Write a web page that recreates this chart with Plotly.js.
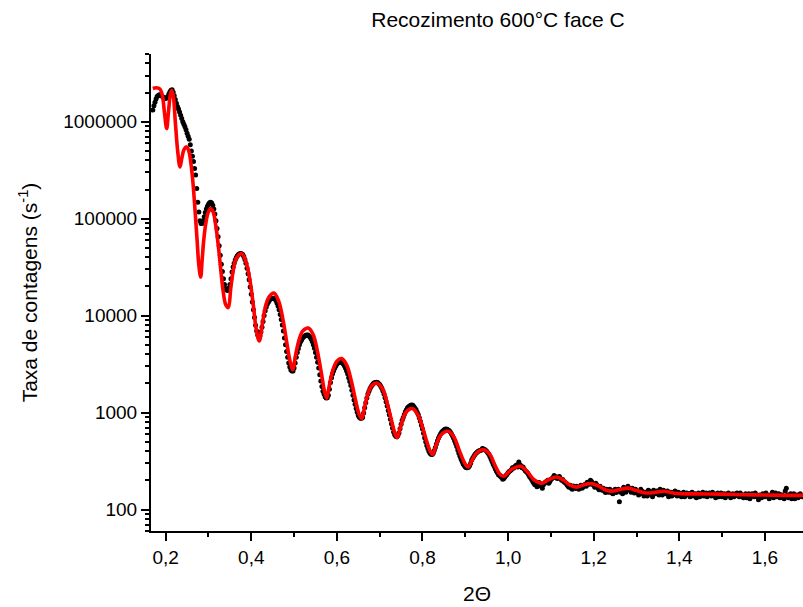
<!DOCTYPE html>
<html><head><meta charset="utf-8">
<script src="https://cdn.plot.ly/plotly-3.0.1.min.js"></script>
<style>html,body{margin:0;padding:0;background:#fff;} #chart{width:803px;height:607px;}</style>
</head><body><div id="chart"></div>
<script>
// Measured scan on a uniform 2θ grid
const scanStart = 0.170;
const scanStep = 0.0025;
const measuredCounts = [
1320000,1460000,1590000,1720000,1820000,1870000,1900000,1890000,1860000,1820000,1780000,1760000,1740000,1770000,1820000,1930000,2040000,2110000,2140000,2020000,
1860000,1700000,1550000,1440000,1350000,1260000,1170000,1080000,1000000,945000,890000,825000,760000,710000,660000,580000,500000,440000,389000,330000,
282000,205000,148000,117000,95500,89000,89100,95000,105000,116000,126000,134000,141000,146000,148000,145000,138000,126000,112000,95000,
79400,65000,52500,42000,33900,28500,24000,21000,19100,18400,18200,19200,20900,24000,28200,31700,34700,37500,39800,41500,
42700,43400,43700,43500,42700,40800,38000,34700,30900,27000,23400,19700,16600,13800,11500,9550,7940,6920,6310,6030,
6170,6760,7590,8710,10000,11200,12300,13200,13800,14400,14800,15000,15100,15100,14800,14300,13500,12600,11500,10300,
9120,8000,6920,5890,5010,4270,3720,3240,2950,2750,2690,2690,2880,3240,3720,4170,4570,5010,5370,5620,
5890,6060,6170,6270,6310,6310,6170,6000,5750,5420,5010,4600,4170,3720,3310,2880,2450,2120,1860,1660,
1550,1460,1410,1420,1510,1740,2040,2290,2510,2700,2880,3020,3160,3240,3310,3340,3310,3260,3160,3040,
2880,2700,2510,2290,2090,1900,1700,1510,1350,1220,1100,1010,933,895,871,871,891,990,1120,1260,
1410,1550,1660,1770,1860,1930,2000,2030,2040,2050,2040,2000,1950,1870,1780,1670,1550,1420,1290,1170,
1050,950,851,766,692,631,589,568,562,580,617,680,759,832,891,955,1020,1070,1120,1150,
1170,1190,1200,1190,1150,1110,1070,1010,955,885,813,741,676,610,550,500,457,425,398,380,
372,370,380,405,437,475,513,545,575,603,631,646,661,672,676,672,661,650,631,603,
575,545,513,480,447,412,380,355,331,312,295,284,275,270,269,272,282,300,324,340,
355,370,380,390,398,403,407,412,427,420,417,408,398,386,372,352,331,312,295,280,
263,250,240,228,224,219,214,205,209,216,224,229,240,246,251,257,269,266,275,282,
288,275,309,290,282,270,275,262,251,245,240,229,219,212,204,195,186,180,191,172,
178,190,182,174,166,180,186,192,195,200,186,195,204,209,214,224,219,212,209,216,
219,209,200,204,195,190,186,180,174,170,178,166,162,175,170,165,174,170,162,168,
178,166,170,178,182,174,191,186,182,200,195,182,178,170,186,178,166,160,174,166,
158,166,155,150,162,158,151,162,158,148,145,155,162,150,155,162,120,151,158,145,
170,158,151,162,174,166,158,151,166,158,148,162,155,148,141,151,162,155,145,138,
151,145,138,158,155,148,141,135,158,151,145,155,151,141,162,148,141,158,155,145,
148,155,135,145,151,138,141,151,155,145,138,151,148,141,135,145,151,135,141,148,
145,141,135,148,151,138,141,145,132,141,148,135,138,145,151,138,141,148,135,141,
148,141,138,151,145,138,132,145,148,135,141,148,135,141,145,132,138,145,148,138,
132,141,145,135,138,145,148,141,135,148,141,135,132,141,145,132,138,145,129,138,
145,138,135,148,141,135,126,141,138,132,145,141,135,148,141,135,129,141,138,151,
132,141,148,135,138,145,132,141,141,132,129,155,166,141,132,138,145,129,135,145,
129,138,141,132,135,145,138,135
];

// Fitted curve
const fitAngle = [
0.170,0.178,0.186,0.192,0.197,0.2023,0.2065,0.2105,0.214,0.218,0.2225,0.228,0.2334,0.238,0.243,0.249,
0.254,0.259,0.264,0.269,0.2735,0.2775,0.2818,0.285,0.2885,0.293,0.299,0.305,0.311,0.317,0.323,0.329,
0.335,0.3405,0.3463,0.352,0.358,0.365,0.3776,0.388,0.397,0.405,0.4115,0.4187,0.426,0.433,0.441,0.453,
0.464,0.474,0.483,0.490,0.4967,0.503,0.511,0.520,0.5332,0.545,0.555,0.564,0.571,0.5762,0.582,0.590,
0.600,0.6112,0.623,0.634,0.644,0.652,0.658,0.665,0.673,0.682,0.6944,0.707,0.718,0.728,0.736,0.7411,
0.748,0.756,0.765,0.7762,0.789,0.800,0.810,0.818,0.8238,0.830,0.839,0.848,0.8603,0.873,0.885,0.895,
0.902,0.907,0.914,0.922,0.931,0.9437,0.957,0.969,0.980,0.9904,1.000,1.010,1.0294,1.045,1.060,1.0785,
1.095,1.1136,1.130,1.145,1.160,1.177,1.195,1.212,1.229,1.2458,1.263,1.281,1.298,1.315,1.3316,1.3627,
1.395,1.430,1.500,1.550,1.600,1.650,1.689
];
const fitCounts = [
2200000,2240000,2190000,1900000,1260000,851000,1260000,1860000,2110000,1820000,1000000,501000,342000,427000,519000,550000,
501000,372000,229000,115000,58900,33100,25000,36300,57500,85100,115000,127000,117000,85100,52500,28800,
17000,12900,12100,19100,29500,38900,43700,35500,22900,12600,7240,5470,8320,12300,15500,17100,
14100,9120,5250,3470,2770,3800,5500,6920,7450,6310,4170,2510,1660,1410,1860,2690,
3390,3600,3090,2090,1320,955,865,1150,1580,1910,2010,1740,1230,813,603,551,
692,912,1050,1100,955,708,501,398,371,437,550,617,640,562,417,324,
285,274,309,363,398,414,372,288,234,220,240,263,279,245,204,187,
204,216,200,178,170,180,185,174,158,155,162,166,158,150,148,154,
146,145,144,142,141,140,140
];

const xTickVals = [0.2,0.4,0.6,0.8,1.0,1.2,1.4,1.6];
const xTickText = ['0,2','0,4','0,6','0,8','1,0','1,2','1,4','1,6'];
const xMinorVals = [0.3,0.5,0.7,0.9,1.1,1.3,1.5];
const yTickVals = [100,1000,10000,100000,1000000];
const yTickText = ['100','1000','10000','100000','1000000'];

const yMinorVals = [];
[10,100,1000,10000,100000,1000000].forEach(d => {
  for (let k = 2; k <= 9; k++) yMinorVals.push(d*k);
});

const font = 'Liberation Sans, Arial, sans-serif';

const traces = [
  {
    type: 'scatter', mode: 'markers',
    x0: scanStart, dx: scanStep, y: measuredCounts,
    marker: {color: '#000000', size: 5},
    hoverinfo: 'skip', showlegend: false
  },
  {
    type: 'scatter', mode: 'lines',
    x: fitAngle, y: fitCounts,
    line: {color: '#ff0000', width: 3.6, shape: 'spline', smoothing: 1},
    hoverinfo: 'skip', showlegend: false
  }
];

const layout = {
  width: 803, height: 607,
  margin: {l: 151, r: 0, t: 54, b: 76},
  paper_bgcolor: '#ffffff', plot_bgcolor: '#ffffff',
  font: {family: font, color: '#000000'},
  showlegend: false,
  title: {
    text: 'Recozimento 600°C face C',
    font: {family: font, size: 21, color: '#000'},
    x: 498/803, xref: 'container', xanchor: 'center',
    y: 1 - 20/607, yref: 'container', yanchor: 'middle'
  },
  xaxis: {
    range: [0.1657, 1.689],
    showgrid: false, zeroline: false,
    showline: true, linecolor: '#000', linewidth: 2,
    ticks: 'outside', ticklen: 8, tickwidth: 2, tickcolor: '#000',
    tickmode: 'array', tickvals: xTickVals, ticktext: xTickText,
    tickfont: {family: font, size: 19, color: '#000'},
    minor: {tickmode: 'array', tickvals: xMinorVals, ticks: 'outside', ticklen: 4, tickwidth: 2, tickcolor: '#000', showgrid: false},
    title: {text: '2Θ', font: {family: font, size: 21, color: '#000'}, standoff: 20},
    automargin: false
  },
  yaxis: {
    type: 'log',
    range: [Math.log10(60), Math.log10(5000000)],
    showgrid: false, zeroline: false,
    showline: true, linecolor: '#000', linewidth: 2,
    ticks: 'outside', ticklen: 8, tickwidth: 2, tickcolor: '#000',
    tickmode: 'array', tickvals: yTickVals, ticktext: yTickText,
    tickfont: {family: font, size: 19, color: '#000'},
    minor: {tickmode: 'array', tickvals: yMinorVals, ticks: 'outside', ticklen: 4, tickwidth: 2, tickcolor: '#000', showgrid: false},
    title: {text: 'Taxa de contagens (s<sup>-1</sup>)', font: {family: font, size: 21, color: '#000'}, standoff: 20},
    automargin: false
  }
};

Plotly.newPlot('chart', traces, layout, {displayModeBar: false, staticPlot: true});
</script>
</body></html>
